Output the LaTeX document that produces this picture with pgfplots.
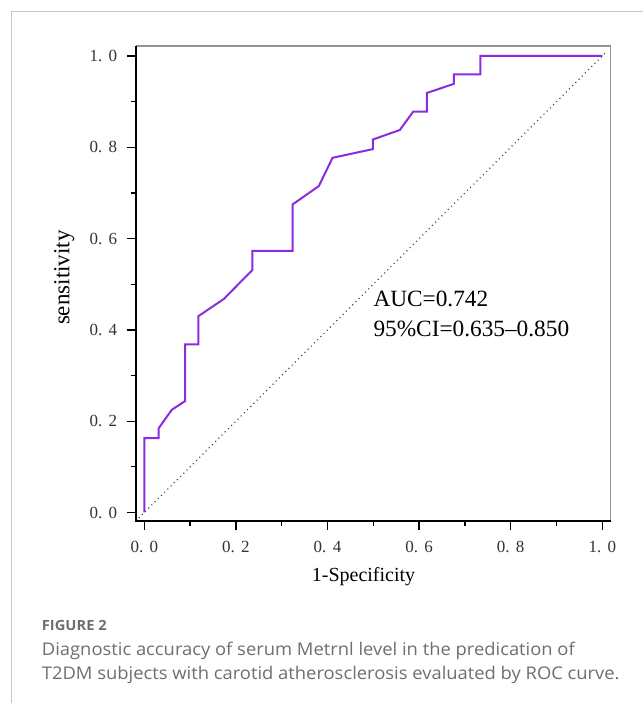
\documentclass[border=0pt]{standalone}
\usepackage{fontspec}
\setmainfont{Liberation Serif}
\newfontfamily\capfont[FakeStretch=1.05]{Open Sans}
\usepackage{pgfplots}
\pgfplotsset{compat=1.18}
\definecolor{roc}{RGB}{138,43,226}
\definecolor{capgray}{RGB}{110,110,110}
\newcommand{\tl}[2]{#1\makebox[0.62em][l]{.}#2}
\begin{document}
\begin{tikzpicture}
\path[use as bounding box] (0,0) rectangle (643pt,-703pt);
\draw[black!22, line width=1pt] (11.7pt,-703pt) -- (11.7pt,-11.7pt) -- (643pt,-11.7pt);
\begin{axis}[
  at={(135.7pt,-520.7pt)}, anchor=south west,
  scale only axis, width=475pt, height=474.7pt,
  xmin=-0.0188, xmax=1.0183, ymin=-0.018, ymax=1.0219,
  axis x line*=bottom, axis y line*=left,
  axis line style={-, line width=1.4pt, draw=black},
  xtick={0,0.2,0.4,0.6,0.8,1}, ytick={0,0.2,0.4,0.6,0.8,1},
  xticklabels={\tl00,\tl02,\tl04,\tl06,\tl08,\tl10},
  yticklabels={\tl00,\tl02,\tl04,\tl06,\tl08,\tl10},
  minor tick num=1,
  tick align=outside,
  major tick length=9pt, minor tick length=5pt,
  tick style={line width=1.3pt, black},
  tick label style={font=\fontsize{17}{17}\selectfont, text=black!80},
  xticklabel style={yshift=-8pt},
  yticklabel style={xshift=-6pt},
  clip=false,
]
\draw[black!42, line width=1.4pt] (rel axis cs:0,1) -- (rel axis cs:1,1) -- (rel axis cs:1,0);
\addplot[black!75, line width=1.2pt, dash pattern=on 1pt off 3.5pt] coordinates {(-0.012,-0.012) (1.009,1.009)};
\addplot[roc, line width=2pt, line join=miter] coordinates {
(0,0) (0,0.163) (0.031,0.163) (0.031,0.184) (0.060,0.225) (0.089,0.244)
(0.089,0.368) (0.118,0.368) (0.118,0.430) (0.174,0.468) (0.215,0.510)
(0.236,0.531) (0.236,0.573) (0.324,0.573) (0.324,0.675) (0.381,0.715)
(0.411,0.777) (0.499,0.796) (0.499,0.817) (0.558,0.838) (0.587,0.878)
(0.617,0.878) (0.617,0.919) (0.676,0.939) (0.676,0.960) (0.734,0.960)
(0.734,1.0) (1.0,1.0)};
\end{axis}
\draw[draw=black, line width=1.6pt] (135.7pt,-46pt) -- (135.7pt,-520.7pt) -- (610.7pt,-520.7pt);
\node[anchor=base, inner sep=0, font=\fontsize{20}{20}\selectfont] at (363.5pt,-581.7pt) {1-Specificity};
\node[anchor=base, inner sep=0, rotate=90, font=\fontsize{23}{23}\selectfont] at (69.3pt,-277.7pt) {sensitivity};
\node[anchor=base west, inner sep=0, font=\fontsize{23.3}{23.3}\selectfont] at (373.3pt,-306pt) {AUC=0.742};
\node[anchor=base west, inner sep=0, font=\fontsize{23.3}{23.3}\selectfont] at (373.3pt,-336pt) {95\%CI=0.635--0.850};
\node[anchor=base west, inner sep=0, text=capgray, font=\capfont\bfseries\fontsize{14}{14}\selectfont] at (41.7pt,-630pt) {FIGURE 2};
\node[anchor=base west, inner sep=0, text=capgray, font=\capfont\fontsize{17.5}{17.5}\selectfont] at (41.7pt,-655pt) {Diagnostic accuracy of serum Metrnl level in the predication of};
\node[anchor=base west, inner sep=0, text=capgray, font=\capfont\fontsize{17.5}{17.5}\selectfont] at (41.7pt,-679pt) {T2DM subjects with carotid atherosclerosis evaluated by ROC curve.};
\end{tikzpicture}
\end{document}
